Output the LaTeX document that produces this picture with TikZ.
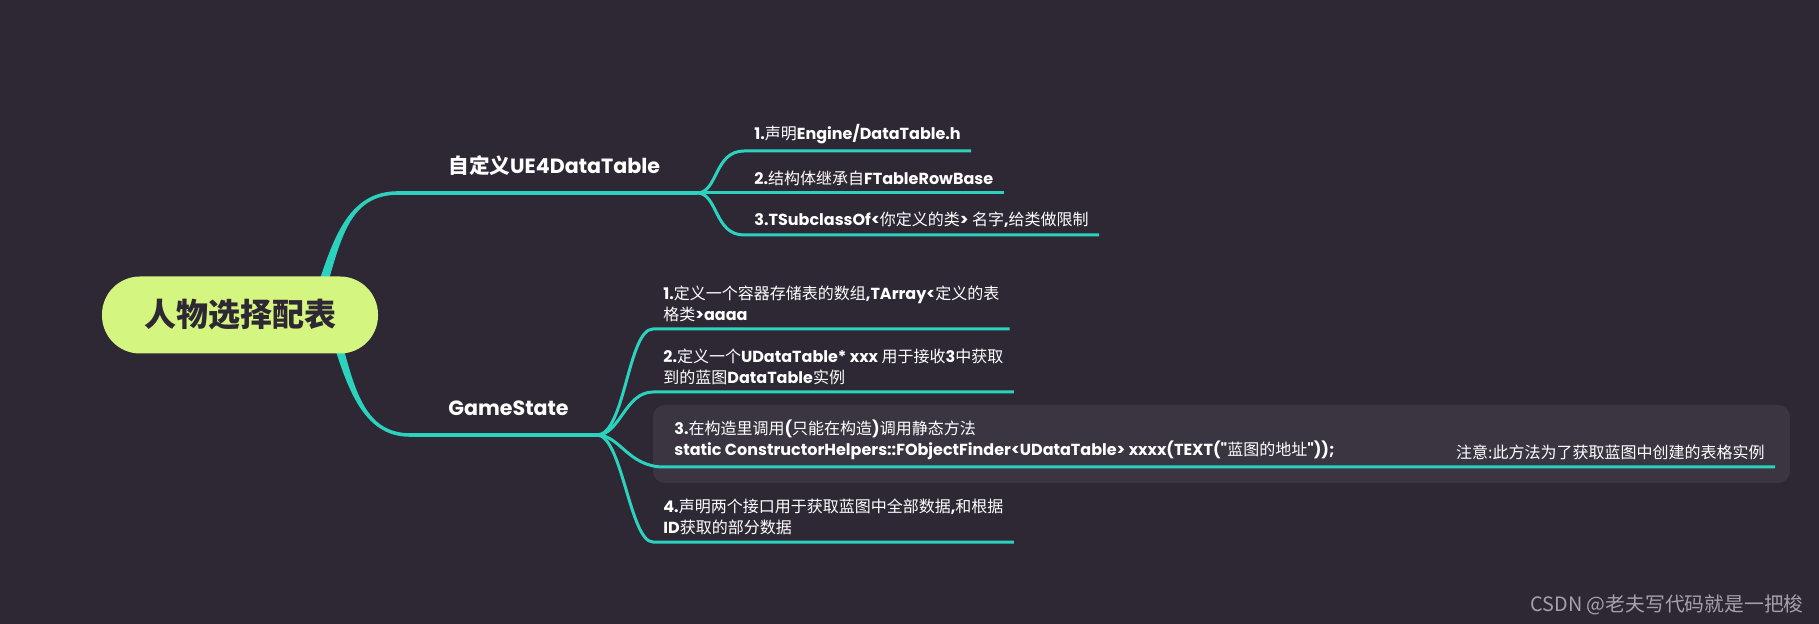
\documentclass[tikz,border=0pt]{standalone}
\usepackage{fontspec}
\setmainfont{Noto Sans CJK SC}
\newfontfamily\lat{Poppins}
\usetikzlibrary{calc}
\definecolor{bgdark}{RGB}{46,40,52}
\definecolor{mint}{RGB}{43,211,190}
\definecolor{rootgreen}{RGB}{212,245,128}
\definecolor{boxgray}{RGB}{58,53,64}
\definecolor{markgray}{RGB}{165,160,170}
\newcommand{\en}[1]{{\lat\bfseries #1}}
\tikzset{
  rootbox/.style={fill=rootgreen, rounded corners=19pt, minimum width=138pt, minimum height=38.5pt, text=bgdark, font=\fontsize{16pt}{18pt}\selectfont\bfseries},
  headtext/.style={anchor=west, inner sep=0pt, text=white, font=\fontsize{10.3pt}{12pt}\selectfont\bfseries},
  leaftext/.style={anchor=south west, inner xsep=5pt, inner ysep=3.5pt, align=left, text=white, font=\fontsize{8pt}{10.5pt}\selectfont},
  twig/.style={mint, line width=1.5pt},
  limb/.style={mint, line width=1.8pt},
}
\begin{document}
\begin{tikzpicture}[x=0.5pt,y=-0.5pt]
\fill[bgdark] (0,0) rectangle (1819,624);
\node[fill=boxgray, rounded corners=6pt, minimum width=568.5pt, minimum height=39pt, inner sep=0pt] (c3box) at (1221.5,444) {};

\node[headtext] (uedt) at (448,166) {自定义\en{UE4DataTable}};
\node[headtext] (gs) at (448,408) {\en{GameState}};

\node[leaftext] (u1) at (744,151) {\en{1.}声明\en{Engine/DataTable.h}};
\node[leaftext] (u2) at (744,193) {\en{2.}结构体继承自\en{FTableRowBase}};
\node[leaftext] (u3) at (744,235) {\en{3.TSubclassOf<}你定义的类\en{>} 名字\en{,}给类做限制};

\node[leaftext] (g1) at (653,329) {\en{1.}定义一个容器存储表的数组\en{,TArray<}定义的表\\格类\en{>aaaa}};
\node[leaftext] (g2) at (653,392) {\en{2.}定义一个\en{UDataTable* xxx} 用于接收\en{3}中获取\\到的蓝图\en{DataTable}实例};
\node[leaftext] (g3) at (664,467) {\en{3.}在构造里调用\en{(}只能在构造\en{)}调用静态方法\\\en{static ConstructorHelpers::FObjectFinder<UDataTable> xxxx(TEXT("}蓝图的地址\en{"));}};
\node[leaftext, anchor=south east] (g3note) at (1775,467) {注意:此方法为了获取蓝图中创建的表格实例};
\node[leaftext] (g4) at (653,542) {\en{4.}声明两个接口用于获取蓝图中全部数据\en{,}和根据\\\en{ID}获取的部分数据};

\coordinate (uedtsplit) at (697,193);
\coordinate (gssplit) at (597,435);

\fill[mint] (317.7,285.6) .. controls (334.5,234.9) and (350,191.2) .. (398,191.2)
  -- (398,194.8) .. controls (350,194.8) and (341.5,237.1) .. (326.3,288.4) -- cycle;
\fill[mint] (338.3,328.7) .. controls (353.5,384) and (362,433.2) .. (410,433.2)
  -- (410,436.8) .. controls (362,436.8) and (346.5,386) .. (329.7,331.3) -- cycle;
\draw[limb] (397,193) -- (uedtsplit);
\draw[limb] (409,435) -- (gssplit);

\draw[twig] (uedtsplit) .. controls (718,193) and (714,151) .. (u1.south west) -- (u1.south east);
\draw[twig] (uedtsplit) -- (u2.south west) -- (u2.south east);
\draw[twig] (uedtsplit) .. controls (718,193) and (714,235) .. (u3.south west) -- (u3.south east);

\draw[twig] (gssplit) .. controls (625,435) and (628,329) .. (g1.south west) -- (g1.south east);
\draw[twig] (gssplit) .. controls (620,435) and (625,392) .. (g2.south west) -- (g2.south east);
\draw[twig] (gssplit) .. controls (620,435) and (628,467) .. (g3.south west) -- (g3note.south east);
\draw[twig] (gssplit) .. controls (622,435) and (630,542) .. (g4.south west) -- (g4.south east);

\node[rootbox] (root) at (240,315) {人物选择配表};
\node[anchor=east, inner sep=0pt, text=markgray, font=\fontsize{9.9pt}{11pt}\selectfont] (csdn) at (1804,605) {CSDN @老夫写代码就是一把梭};
\end{tikzpicture}
\end{document}
